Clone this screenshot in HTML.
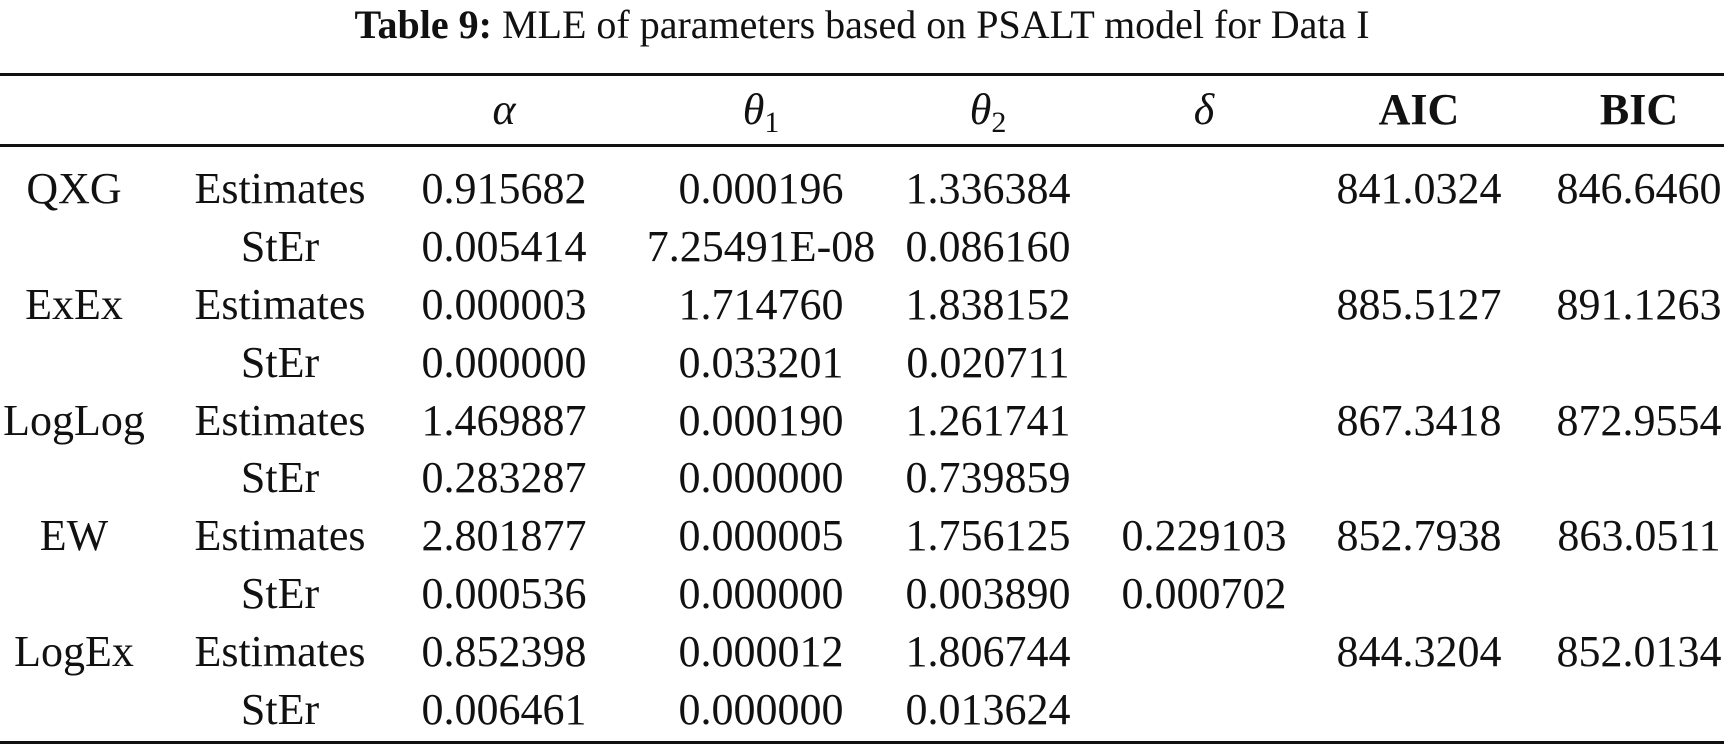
<!DOCTYPE html>
<html><head><meta charset="utf-8"><style>
html,body{margin:0;padding:0;background:#fff;}
svg{display:block;}
text{font-family:"Liberation Serif","DejaVu Serif",serif;fill:#111;}
</style></head><body>
<svg width="1724" height="747" viewBox="0 0 1724 747" xmlns="http://www.w3.org/2000/svg">
<text x="862" y="38" font-size="40" text-anchor="middle"><tspan font-weight="bold">Table 9:</tspan>  MLE of parameters based on PSALT model for Data I</text>
<rect x="0" y="73" width="1724" height="3" fill="#111"/>
<rect x="0" y="144" width="1724" height="3" fill="#111"/>
<rect x="0" y="741" width="1724" height="3" fill="#111"/>
<g font-size="44" text-anchor="middle">
<text x="504" y="124" font-style="italic">α</text>
<text x="761" y="124"><tspan font-style="italic">θ</tspan><tspan font-size="30" dy="8">1</tspan></text>
<text x="988" y="124"><tspan font-style="italic">θ</tspan><tspan font-size="30" dy="8">2</tspan></text>
<text x="1204" y="124" font-style="italic">δ</text>
<text x="1419" y="124" font-weight="bold">AIC</text>
<text x="1639" y="124" font-weight="bold">BIC</text>

<text x="74" y="203">QXG</text><text x="280" y="203">Estimates</text><text x="504" y="203">0.915682</text><text x="761" y="203">0.000196</text><text x="988" y="203">1.336384</text><text x="1419" y="203">841.0324</text><text x="1639" y="203">846.6460</text>
<text x="280" y="261">StEr</text><text x="504" y="261">0.005414</text><text x="761" y="261">7.25491E-08</text><text x="988" y="261">0.086160</text>
<text x="74" y="319">ExEx</text><text x="280" y="319">Estimates</text><text x="504" y="319">0.000003</text><text x="761" y="319">1.714760</text><text x="988" y="319">1.838152</text><text x="1419" y="319">885.5127</text><text x="1639" y="319">891.1263</text>
<text x="280" y="377">StEr</text><text x="504" y="377">0.000000</text><text x="761" y="377">0.033201</text><text x="988" y="377">0.020711</text>
<text x="74" y="435">LogLog</text><text x="280" y="435">Estimates</text><text x="504" y="435">1.469887</text><text x="761" y="435">0.000190</text><text x="988" y="435">1.261741</text><text x="1419" y="435">867.3418</text><text x="1639" y="435">872.9554</text>
<text x="280" y="492">StEr</text><text x="504" y="492">0.283287</text><text x="761" y="492">0.000000</text><text x="988" y="492">0.739859</text>
<text x="74" y="550">EW</text><text x="280" y="550">Estimates</text><text x="504" y="550">2.801877</text><text x="761" y="550">0.000005</text><text x="988" y="550">1.756125</text><text x="1204" y="550">0.229103</text><text x="1419" y="550">852.7938</text><text x="1639" y="550">863.0511</text>
<text x="280" y="608">StEr</text><text x="504" y="608">0.000536</text><text x="761" y="608">0.000000</text><text x="988" y="608">0.003890</text><text x="1204" y="608">0.000702</text>
<text x="74" y="666">LogEx</text><text x="280" y="666">Estimates</text><text x="504" y="666">0.852398</text><text x="761" y="666">0.000012</text><text x="988" y="666">1.806744</text><text x="1419" y="666">844.3204</text><text x="1639" y="666">852.0134</text>
<text x="280" y="724">StEr</text><text x="504" y="724">0.006461</text><text x="761" y="724">0.000000</text><text x="988" y="724">0.013624</text>
</g>
</svg>
</body></html>
